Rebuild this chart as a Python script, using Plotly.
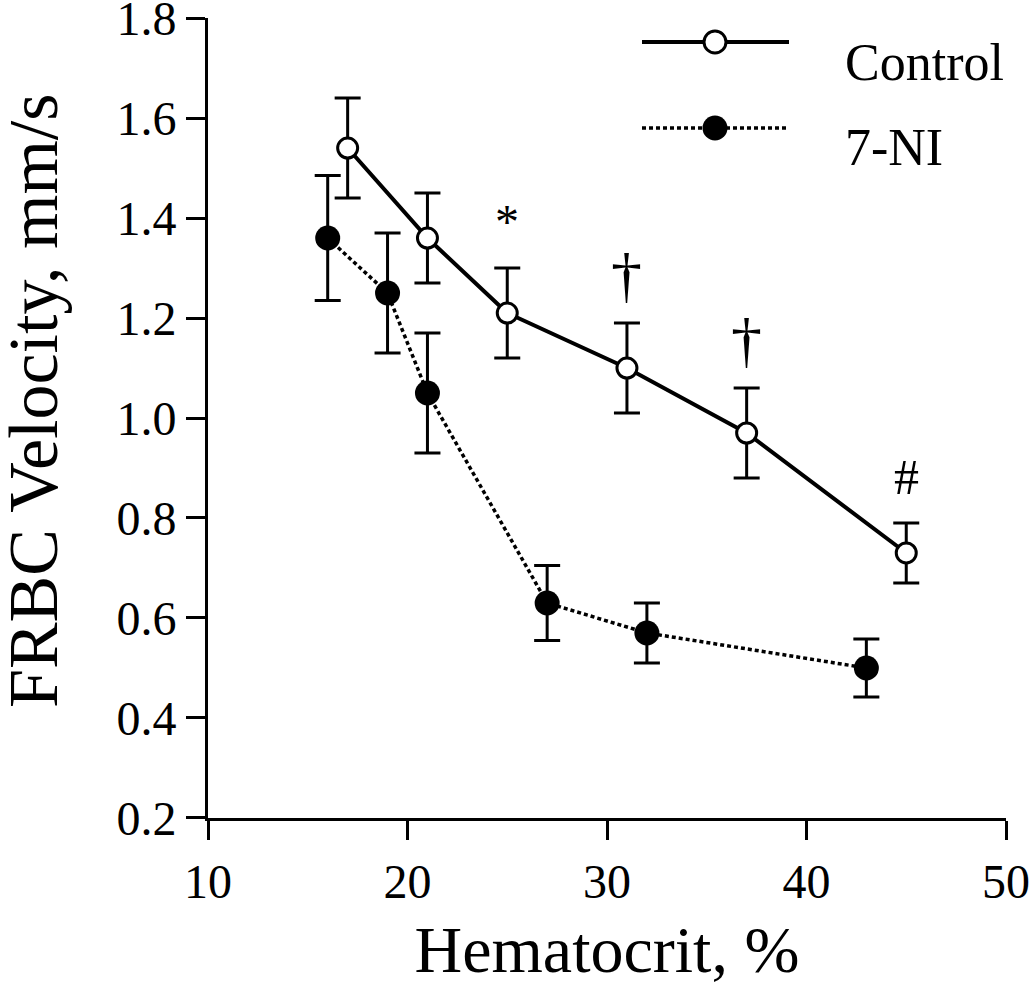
import plotly.graph_objects as go

# data
hct_control = [17, 21, 25, 31, 37, 45]
vel_control = [1.54, 1.36, 1.21, 1.10, 0.97, 0.73]
err_control = [0.10, 0.09, 0.09, 0.09, 0.09, 0.06]

hct_ni = [16, 19, 21, 27, 32, 43]
vel_ni = [1.36, 1.25, 1.05, 0.63, 0.57, 0.50]
err_ni = [0.125, 0.12, 0.12, 0.075, 0.06, 0.058]

# significance marks on the control series
sig_x = [25, 31, 37, 45]
sig_labels = ["*", "\u2020", "\u2020", "#"]

FONT = "Liberation Serif"

fig = go.Figure()

fig.add_trace(go.Scatter(
    x=hct_ni, y=vel_ni,
    mode="lines+markers",
    line=dict(color="black", width=3.5, dash="4px,3px"),
    marker=dict(symbol="circle", size=25, color="black"),
    error_y=dict(type="data", array=err_ni, color="black", thickness=3, width=13),
    cliponaxis=False, showlegend=False,
))

fig.add_trace(go.Scatter(
    x=hct_control, y=vel_control,
    mode="lines+markers",
    line=dict(color="black", width=4),
    marker=dict(symbol="circle", size=20, color="white", line=dict(color="black", width=3)),
    error_y=dict(type="data", array=err_control, color="black", thickness=3, width=13),
    cliponaxis=False, showlegend=False,
))

# significance symbols above the upper error caps
sig_style = {"*": (48, 47), "\u2020": (62, 48), "#": (50, 46)}  # font size, pixel lift
ctrl = dict(zip(hct_control, zip(vel_control, err_control)))
for xv, lab in zip(sig_x, sig_labels):
    v, e = ctrl[xv]
    size, lift = sig_style[lab]
    fig.add_annotation(x=xv, y=v + e, text=lab, showarrow=False,
                       yanchor="middle", yshift=lift,
                       font=dict(family=FONT, size=size, color="black"))

# hand-made legend (long sample lines like the original)
# pixel helpers: plot area sits at x 208..1006, y 18..818
def px_x(p):
    return (p - 208) / 798

def px_y(p):
    return (818 - p) / 800

legend_rows = [("Control", 42, 62, "solid", 4, "white"),
               ("7-NI", 128, 147, "4px,3px", 3.5, "black")]
for name, ly, ty, dash, lw, fill in legend_rows:
    fig.add_shape(type="line", xref="paper", yref="paper",
                  x0=px_x(642), x1=px_x(789), y0=px_y(ly), y1=px_y(ly),
                  line=dict(color="black", width=lw, dash=dash))
    r = 11 if fill == "white" else 12.5
    fig.add_shape(type="circle", xref="paper", yref="paper",
                  xsizemode="pixel", ysizemode="pixel",
                  xanchor=px_x(715), yanchor=px_y(ly),
                  x0=-r, x1=r, y0=-r, y1=r,
                  fillcolor=fill, line=dict(color="black", width=3 if fill == "white" else 0))
    fig.add_annotation(xref="paper", yref="paper", x=px_x(843), y=px_y(ty),
                       xanchor="left", yanchor="middle", text=name, showarrow=False,
                       font=dict(family=FONT, size=52, color="black"))

# y title as an annotation so the plot area stays put
fig.add_annotation(xref="paper", yref="paper", x=px_x(33), y=px_y(401),
                   xanchor="center", yanchor="middle", textangle=-90,
                   text="FRBC Velocity, mm/s", showarrow=False,
                   font=dict(family=FONT, size=70, color="black"))

axis_common = dict(
    showline=True, linecolor="black", linewidth=3,
    ticks="outside", ticklen=19, tickwidth=3, tickcolor="black",
    showgrid=False, zeroline=False, automargin=False,
    ticklabeloverflow="allow",
    tickfont=dict(family=FONT, size=48, color="black"),
)

fig.update_xaxes(range=[10, 50], tickvals=[10, 20, 30, 40, 50],
                 title=dict(text="Hematocrit, %", font=dict(family=FONT, size=66, color="black"), standoff=30),
                 **axis_common)
fig.update_yaxes(range=[0.1999, 1.8001], tickvals=[0.2, 0.4, 0.6, 0.8, 1.0, 1.2, 1.4, 1.6, 1.8],
                 tickformat=".1f",
                 **axis_common)

fig.update_layout(
    width=1031, height=986,
    margin=dict(l=208, r=25, t=18, b=168),
    plot_bgcolor="white", paper_bgcolor="white",
    font=dict(family=FONT, color="black"),
)

# drop the default page margin so the figure fills the window exactly
fig.write_html("out.html", config={"displayModeBar": False},
               post_script="document.body.style.margin='0';")
